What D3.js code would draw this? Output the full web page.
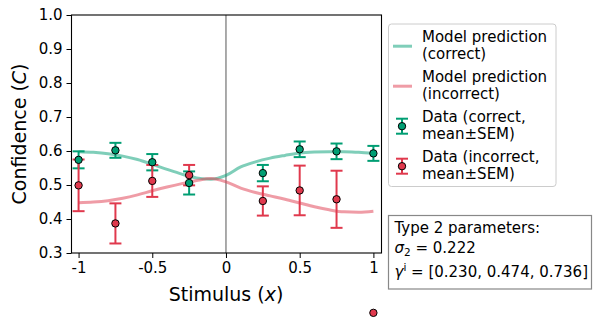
<!DOCTYPE html>
<html>
<head>
<meta charset="utf-8">
<script src="https://cdn.jsdelivr.net/npm/d3@7"></script>
<style>
  body { margin: 0; background: #fff; }
  svg { font-family: "DejaVu Sans", sans-serif; }
</style>
</head>
<body>
<div id="chart"></div>
<script>
// stimulus levels of the data points
const stimX = [-1, -0.75, -0.5, -0.25, 0.25, 0.5, 0.75, 1];
const correctMean = [0.574, 0.602, 0.567, 0.506, 0.535, 0.605, 0.599, 0.593];
const correctSem = [0.025, 0.022, 0.024, 0.034, 0.024, 0.023, 0.023, 0.022];
const incorrectMean = [0.499, 0.387, 0.512, 0.529, 0.453, 0.484, 0.458, 0.124];
const incorrectSem = [0.076, 0.059, 0.047, 0.030, 0.043, 0.073, 0.084, null];

// model prediction curves
const modelX = [-1, -0.9, -0.8, -0.7, -0.6, -0.5, -0.4, -0.3, -0.2, -0.1, 0,
                0.1, 0.2, 0.3, 0.4, 0.5, 0.6, 0.7, 0.8, 0.9, 1];
const modelCorrect = [0.598, 0.596, 0.592, 0.585, 0.575, 0.561, 0.546, 0.532, 0.521, 0.517, 0.528,
                      0.553, 0.568, 0.579, 0.587, 0.594, 0.597, 0.598, 0.598, 0.596, 0.593];
const modelIncorrect = [0.448, 0.450, 0.454, 0.461, 0.471, 0.483, 0.494, 0.504, 0.513, 0.519, 0.509,
                        0.491, 0.478, 0.468, 0.458, 0.447, 0.436, 0.427, 0.421, 0.420, 0.423];

const xTicks = [-1, -0.5, 0, 0.5, 1];
const xTickLabels = ["-1", "-0.5", "0", "0.5", "1"];
const yTicks = [0.3, 0.4, 0.5, 0.6, 0.7, 0.8, 0.9, 1.0];

const sigma2 = "0.222";
const gammaI = "[0.230, 0.474, 0.736]";

const green = "#009E73";
const red = "#E0394D";

const width = 593, height = 326;
const axL = 71.5, axR = 381.5, axT = 15, axB = 253;

const svg = d3.select("#chart").append("svg")
  .attr("width", width)
  .attr("height", height);

const x = d3.scaleLinear().domain([-1.048, 1.055]).range([axL, axR]);
const y = d3.scaleLinear().domain([0.3, 1.0]).range([axB, axT]);

svg.append("clipPath").attr("id", "clip")
  .append("rect")
  .attr("x", axL).attr("y", axT)
  .attr("width", axR - axL).attr("height", axB - axT);

const plot = svg.append("g").attr("clip-path", "url(#clip)");

/* zero line */
plot.append("line")
  .attr("x1", x(0)).attr("x2", x(0))
  .attr("y1", axT).attr("y2", axB)
  .attr("stroke", "#444").attr("stroke-width", 0.9);

/* model curves */
const line = d3.line()
  .x((d, i) => x(modelX[i]))
  .y(d => y(d))
  .curve(d3.curveMonotoneX);

plot.append("path")
  .attr("d", line(modelCorrect))
  .attr("fill", "none")
  .attr("stroke", green).attr("stroke-opacity", 0.5)
  .attr("stroke-width", 3);

plot.append("path")
  .attr("d", line(modelIncorrect))
  .attr("fill", "none")
  .attr("stroke", red).attr("stroke-opacity", 0.5)
  .attr("stroke-width", 3);

/* error bars first, markers on top */
const barLayer = svg.append("g");
const dotLayer = svg.append("g");

function drawData(means, sems, color) {
  stimX.forEach((sx, i) => {
    const cx = x(sx);
    if (sems[i] != null) {
      const y0 = y(means[i] - sems[i]), y1 = y(means[i] + sems[i]);
      barLayer.append("line")
        .attr("x1", cx).attr("x2", cx).attr("y1", y0).attr("y2", y1)
        .attr("stroke", color).attr("stroke-width", 2);
      [y0, y1].forEach(yy => {
        barLayer.append("line")
          .attr("x1", cx - 6).attr("x2", cx + 6).attr("y1", yy).attr("y2", yy)
          .attr("stroke", color).attr("stroke-width", 2);
      });
    }
    dotLayer.append("circle")
      .attr("cx", cx).attr("cy", y(means[i]))
      .attr("r", 3.7)
      .attr("fill", color)
      .attr("stroke", "#000").attr("stroke-width", 1);
  });
}
drawData(correctMean, correctSem, green);
drawData(incorrectMean, incorrectSem, red);

/* axes */
const xAxis = d3.axisBottom(x).tickValues(xTicks)
  .tickFormat((d, i) => xTickLabels[i]).tickSize(5).tickPadding(4);
const yAxis = d3.axisLeft(y).tickValues(yTicks)
  .tickFormat(d3.format(".1f")).tickSize(5).tickPadding(4);

const gx = svg.append("g").attr("transform", `translate(0,${axB})`).call(xAxis);
const gy = svg.append("g").attr("transform", `translate(${axL},0)`).call(yAxis);
[gx, gy].forEach(g => {
  g.select(".domain").remove();
  g.selectAll(".tick line").attr("stroke", "#000").attr("stroke-width", 1);
  g.selectAll(".tick text").attr("fill", "#000")
    .style("font-size", "15px").style("font-family", "DejaVu Sans");
});

svg.append("rect")
  .attr("x", axL).attr("y", axT)
  .attr("width", axR - axL).attr("height", axB - axT)
  .attr("fill", "none").attr("stroke", "#000").attr("stroke-width", 1.1);

/* axis labels */
const xl = svg.append("text")
  .attr("x", x(0)).attr("y", 301)
  .attr("text-anchor", "middle")
  .style("font-size", "19px");
xl.append("tspan").text("Stimulus (");
xl.append("tspan").style("font-style", "italic").text("x");
xl.append("tspan").text(")");

const yl = svg.append("text")
  .attr("transform", `translate(26,${(axT + axB) / 2}) rotate(-90)`)
  .attr("text-anchor", "middle")
  .style("font-size", "19px");
yl.append("tspan").text("Confidence (");
yl.append("tspan").style("font-style", "italic").text("C");
yl.append("tspan").text(")");

/* legend */
const lg = svg.append("g");
lg.append("rect")
  .attr("x", 388.5).attr("y", 24).attr("width", 167.5).attr("height", 162.5)
  .attr("rx", 3)
  .attr("fill", "#fff").attr("stroke", "#ccc").attr("stroke-width", 1);

const legendItems = [
  { type: "line", color: green, lines: ["Model prediction", "(correct)"] },
  { type: "line", color: red, lines: ["Model prediction", "(incorrect)"] },
  { type: "err", color: green, lines: ["Data (correct,", "mean\u00B1SEM)"] },
  { type: "err", color: red, lines: ["Data (incorrect,", "mean\u00B1SEM)"] }
];
legendItems.forEach((it, i) => {
  const base = 41.7 + i * 40;
  const cy = base + 4.5;
  if (it.type === "line") {
    lg.append("line")
      .attr("x1", 393).attr("x2", 412).attr("y1", cy).attr("y2", cy)
      .attr("stroke", it.color).attr("stroke-opacity", 0.5).attr("stroke-width", 3);
  } else {
    const hx = 402;
    lg.append("line").attr("x1", hx).attr("x2", hx).attr("y1", cy - 7.5).attr("y2", cy + 7.5)
      .attr("stroke", it.color).attr("stroke-width", 2);
    [cy - 7.5, cy + 7.5].forEach(yy => {
      lg.append("line").attr("x1", hx - 6).attr("x2", hx + 6).attr("y1", yy).attr("y2", yy)
        .attr("stroke", it.color).attr("stroke-width", 2);
    });
    lg.append("circle").attr("cx", hx).attr("cy", cy).attr("r", 3.7)
      .attr("fill", it.color).attr("stroke", "#000").attr("stroke-width", 1);
  }
  it.lines.forEach((t, j) => {
    lg.append("text")
      .attr("x", 422).attr("y", base + j * 17.6)
      .style("font-size", "15px")
      .text(t);
  });
});

/* parameter box */
const pb = svg.append("g");
pb.append("rect")
  .attr("x", 388.5).attr("y", 215.5).attr("width", 203).attr("height", 73.5)
  .attr("fill", "#fff").attr("stroke", "#888").attr("stroke-width", 1.2);
pb.append("text").attr("x", 394.5).attr("y", 233.3)
  .style("font-size", "15px").text("Type 2 parameters:");
const s2 = pb.append("text").attr("x", 394.5).attr("y", 252.5).style("font-size", "15px");
s2.append("tspan").style("font-style", "italic").text("\u03C3");
s2.append("tspan").attr("dy", 3).style("font-size", "10.5px").text("2");
s2.append("tspan").attr("dy", -3).text(" = " + sigma2);
const gm = pb.append("text").attr("x", 394.5).attr("y", 276.5).style("font-size", "15px");
gm.append("tspan").style("font-style", "italic").text("\u03B3");
gm.append("tspan").attr("dy", -6).style("font-size", "10.5px").text("i");
gm.append("tspan").attr("dy", 6).text(" = " + gammaI);
</script>
</body>
</html>
